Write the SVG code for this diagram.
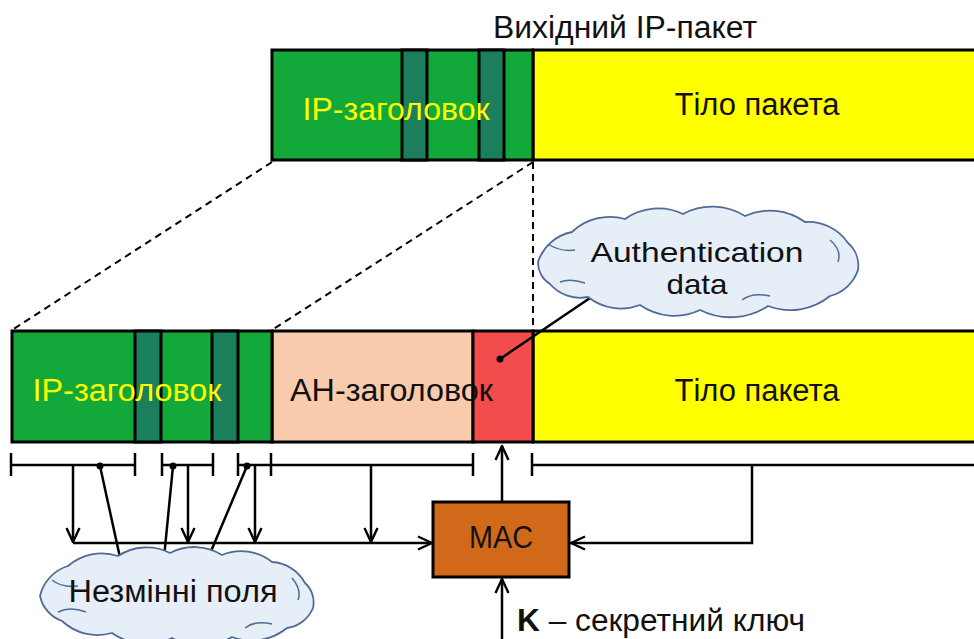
<svg xmlns="http://www.w3.org/2000/svg" width="974" height="639" viewBox="0 0 974 639">
  <defs>
    <marker id="arrow" viewBox="0 0 16 16" refX="15" refY="8" markerWidth="16" markerHeight="16" markerUnits="userSpaceOnUse" orient="auto">
      <path d="M1,1.5 L15,8 L1,14.5" fill="none" stroke="#000" stroke-width="2.4"/>
    </marker>
  </defs>
  <style>
    text { font-family: "Liberation Sans", Arial, sans-serif; font-size: 31px; fill: #111; }
    .small { font-size: 28px; }
    .ip { fill: #ffff00; }
    .box { stroke: #000; stroke-width: 3; }
    .green { fill: #12a83a; }
    .dark { fill: #1b7f5c; }
    .yellow { fill: #ffff00; }
    .ah { fill: #f8cbad; }
    .auth { fill: #f24c4c; }
    .mac { fill: #d2691a; }
    .line { stroke: #000; stroke-width: 2.5; fill: none; }
    .dash { stroke: #000; stroke-width: 2; fill: none; stroke-dasharray: 7 5; }
    .cloud { fill: #e6eef8; stroke: #4f6b96; stroke-width: 1.8; }
  </style>
  <rect width="974" height="639" fill="#ffffff"/>

  <text x="625" y="38" text-anchor="middle" textLength="264" lengthAdjust="spacingAndGlyphs">Вихідний IP-пакет</text>

  <!-- outgoing packet -->
  <g id="out-packet">
    <rect class="box yellow" x="533" y="50" width="450" height="110"/>
    <rect class="box green" x="272" y="50" width="261" height="110"/>
    <rect class="box dark" x="402" y="50" width="25" height="110"/>
    <rect class="box dark" x="479" y="50" width="25" height="110"/>
    <text class="ip" x="396" y="120" text-anchor="middle" textLength="187" lengthAdjust="spacingAndGlyphs">IP-заголовок</text>
    <text x="757" y="115" text-anchor="middle" textLength="165" lengthAdjust="spacingAndGlyphs">Тіло пакета</text>
  </g>

  <!-- projection lines -->
  <g id="projection">
    <line class="dash" x1="272" y1="162" x2="12" y2="330"/>
    <line class="dash" x1="533" y1="162" x2="272" y2="330"/>
    <line class="dash" x1="533" y1="162" x2="533" y2="330"/>
  </g>

  <!-- packet with AH -->
  <g id="ah-packet">
    <rect class="box yellow" x="533" y="331" width="450" height="111"/>
    <rect class="box ah" x="272" y="331" width="201" height="111"/>
    <rect class="box auth" x="473" y="331" width="60" height="111"/>
    <rect class="box green" x="12" y="331" width="260" height="111"/>
    <rect class="box dark" x="135" y="331" width="26" height="111"/>
    <rect class="box dark" x="212" y="331" width="26" height="111"/>
    <text class="ip" x="127" y="401" text-anchor="middle" textLength="189" lengthAdjust="spacingAndGlyphs">IP-заголовок</text>
    <text x="290" y="401" textLength="203" lengthAdjust="spacingAndGlyphs">АН-заголовок</text>
    <text x="757" y="401" text-anchor="middle" textLength="165" lengthAdjust="spacingAndGlyphs">Тіло пакета</text>
  </g>

  <!-- connectors -->
  <g id="connectors">
    <!-- field brackets -->
    <path class="line" d="M11,465 H135 M11,453 V476 M135,453 V476"/>
    <path class="line" d="M162,465 H213 M162,453 V476 M213,453 V476"/>
    <path class="line" d="M238,465 H473 M238,453 V476 M271,453 V476 M473,453 V476"/>
    <path class="line" d="M532,465 H974 M532,453 V476"/>
    <!-- inputs to MAC -->
    <line class="line" x1="73" y1="465" x2="73" y2="542" marker-end="url(#arrow)"/>
    <line class="line" x1="188" y1="465" x2="188" y2="542" marker-end="url(#arrow)"/>
    <line class="line" x1="255" y1="465" x2="255" y2="542" marker-end="url(#arrow)"/>
    <line class="line" x1="371" y1="465" x2="371" y2="542" marker-end="url(#arrow)"/>
    <line class="line" x1="73" y1="543" x2="432" y2="543" marker-end="url(#arrow)"/>
    <path class="line" d="M752,465 V543 H571" marker-end="url(#arrow)"/>
    <line class="line" x1="502" y1="502" x2="502" y2="446" marker-end="url(#arrow)"/>
    <line class="line" x1="502" y1="639" x2="502" y2="579" marker-end="url(#arrow)"/>
    <!-- callout lines -->
    <line class="line" x1="100" y1="466" x2="121" y2="562" stroke-width="2"/>
    <line class="line" x1="173" y1="466" x2="164" y2="558" stroke-width="2"/>
    <line class="line" x1="247" y1="466" x2="209" y2="556" stroke-width="2"/>
    <line class="line" x1="500" y1="359" x2="590" y2="298" stroke-width="2"/>
    <circle cx="100" cy="466" r="3.5" fill="#000"/>
    <circle cx="173" cy="466" r="3.5" fill="#000"/>
    <circle cx="247" cy="466" r="3.5" fill="#000"/>
    <circle cx="500" cy="359" r="3.5" fill="#000"/>
  </g>

  <g id="mac">
    <rect class="box mac" x="433" y="502" width="136" height="75"/>
    <text x="501" y="548" text-anchor="middle" textLength="64" lengthAdjust="spacingAndGlyphs">MAC</text>
  </g>

  <g id="key">
    <text x="517" y="631" textLength="288" lengthAdjust="spacingAndGlyphs"><tspan font-weight="bold">K</tspan> – секретний ключ</text>
  </g>

  <g id="auth-data">
    <path class="cloud" d="M538,262 A45,45 0 0 1 572,232 A55,55 0 0 1 625,219 A58,58 0 0 1 683,214 A62,62 0 0 1 745,216 A60,60 0 0 1 805,222 A48,48 0 0 1 848,243 A30,30 0 0 1 858,270 A40,40 0 0 1 830,296 A63,63 0 0 1 768,306 A68,68 0 0 1 700,310 A60,60 0 0 1 640,305 A53,53 0 0 1 588,297 A40,40 0 0 1 550,284 A25,25 0 0 1 538,262 Z"/>
    <path d="M548,244 Q560,252 575,250 M830,240 Q842,250 838,262 M560,282 Q570,278 585,283 M742,300 Q752,292 770,296" fill="none" stroke="#4f6b96" stroke-width="1.5"/>
    <text class="small" x="697" y="262" text-anchor="middle" textLength="213" lengthAdjust="spacingAndGlyphs">Authentication</text>
    <text class="small" x="697" y="294" text-anchor="middle" textLength="61" lengthAdjust="spacingAndGlyphs">data</text>
  </g>

  <g id="immutable-fields">
    <path class="cloud" d="M40,596 A41,41 0 0 1 68,566 A51,51 0 0 1 118,556 A52,52 0 0 1 170,553 A52,52 0 0 1 222,555 A50,50 0 0 1 272,562 A40,40 0 0 1 305,583 A26,26 0 0 1 313,608 A33,33 0 0 1 287,628 A56,56 0 0 1 232,637 A60,60 0 0 1 172,638 A60,60 0 0 1 112,633 A52,52 0 0 1 62,621 A34,34 0 0 1 40,596 Z"/>
    <path d="M52,580 Q62,588 78,586 M292,578 Q302,590 298,600 M58,612 Q70,606 86,612 M245,628 Q255,620 272,624" fill="none" stroke="#4f6b96" stroke-width="1.5"/>
    <text x="173" y="602" text-anchor="middle" textLength="209" lengthAdjust="spacingAndGlyphs">Незмінні поля</text>
  </g>
</svg>
